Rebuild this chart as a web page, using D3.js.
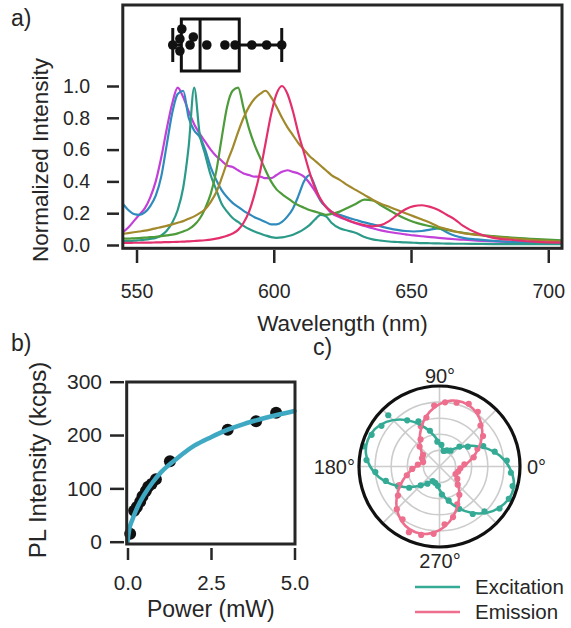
<!DOCTYPE html>
<html>
<head>
<meta charset="utf-8">
<script src="https://cdn.jsdelivr.net/npm/d3@7"></script>
<style>
  body { margin: 0; background: #fff; }
  svg { display: block; font-family: "Liberation Sans", Arial, sans-serif; }
  .axis .domain { display: none; }
  .axis line { stroke: #262626; stroke-width: 2.5; }
  .axis text { fill: #262626; }
</style>
</head>
<body>
<svg id="fig" width="571" height="628"></svg>
<script>
// ---- panel a: spectra ----
const wavelengths = [545,547,549,551,553,555,557,559,561,563,565,567,569,571,573,575,577,579,581,583,
  585,587,589,591,593,595,597,599,601,603,605,607,609,611,613,615,617,619,621,
  624,627,630,633,636,639,642,645,648,651,654,657,660,663,666,669,674,680,688,696,705];

const magenta = [0.08,0.11,0.15,0.19,0.23,0.30,0.40,0.55,0.73,0.89,0.99,0.93,0.84,0.76,0.70,0.65,0.60,0.56,0.53,0.50,
  0.49,0.47,0.45,0.44,0.43,0.43,0.42,0.42,0.44,0.46,0.47,0.46,0.45,0.43,0.39,0.34,0.28,0.24,0.20,
  0.175,0.155,0.135,0.12,0.105,0.092,0.082,0.074,0.067,0.06,0.055,0.05,0.045,0.04,0.036,0.033,0.028,0.023,0.018,0.014,0.011];
const blue = [0.26,0.22,0.195,0.19,0.205,0.245,0.31,0.43,0.63,0.83,0.95,0.97,0.80,0.72,0.68,0.60,0.49,0.41,0.345,0.30,
  0.265,0.24,0.215,0.195,0.175,0.16,0.145,0.13,0.13,0.145,0.18,0.23,0.31,0.40,0.44,0.37,0.28,0.24,0.21,
  0.19,0.172,0.157,0.142,0.13,0.117,0.105,0.095,0.088,0.085,0.088,0.097,0.105,0.08,0.058,0.045,0.035,0.026,0.018,0.013,0.01];
const teal = [0.025,0.025,0.027,0.03,0.033,0.038,0.045,0.06,0.09,0.14,0.22,0.36,0.62,0.99,0.70,0.57,0.44,0.35,0.26,0.21,
  0.17,0.145,0.12,0.10,0.085,0.072,0.06,0.05,0.045,0.048,0.055,0.065,0.08,0.10,0.125,0.16,0.19,0.18,0.14,
  0.105,0.09,0.075,0.05,0.035,0.028,0.022,0.019,0.016,0.014,0.012,0.011,0.01,0.009,0.008,0.008,0.007,0.006,0.006,0.005,0.005];
const green = [0.04,0.04,0.042,0.044,0.046,0.049,0.052,0.056,0.06,0.065,0.073,0.085,0.10,0.125,0.165,0.23,0.32,0.46,0.67,0.87,
  0.97,0.99,0.86,0.73,0.63,0.55,0.47,0.40,0.35,0.32,0.295,0.27,0.25,0.235,0.22,0.21,0.20,0.19,0.195,
  0.21,0.235,0.26,0.285,0.28,0.25,0.22,0.19,0.165,0.145,0.13,0.118,0.105,0.095,0.085,0.077,0.066,0.056,0.045,0.037,0.03];
const olive = [0.07,0.075,0.08,0.085,0.09,0.097,0.105,0.112,0.12,0.13,0.14,0.15,0.165,0.18,0.20,0.225,0.27,0.33,0.42,0.52,
  0.61,0.71,0.80,0.87,0.92,0.95,0.97,0.93,0.87,0.80,0.74,0.69,0.64,0.60,0.56,0.53,0.50,0.47,0.44,
  0.41,0.375,0.345,0.315,0.285,0.26,0.24,0.22,0.20,0.18,0.16,0.14,0.115,0.10,0.085,0.075,0.063,0.052,0.04,0.03,0.022];
const red = [0.013,0.013,0.014,0.014,0.015,0.015,0.016,0.017,0.018,0.019,0.02,0.021,0.023,0.025,0.027,0.03,0.034,0.04,0.048,0.058,
  0.072,0.095,0.14,0.21,0.32,0.46,0.64,0.82,0.95,1.0,0.95,0.84,0.70,0.58,0.46,0.36,0.29,0.24,0.21,
  0.18,0.155,0.138,0.125,0.118,0.125,0.15,0.19,0.225,0.245,0.25,0.24,0.22,0.19,0.16,0.12,0.075,0.045,0.03,0.02,0.015];

const spectra = [
  {name: "magenta", values: magenta, color: "#c23fd8"},
  {name: "blue", values: blue, color: "#2f8bbd"},
  {name: "teal", values: teal, color: "#2b9a88"},
  {name: "green", values: green, color: "#4d9b3a"},
  {name: "olive", values: olive, color: "#a1892c"},
  {name: "red", values: red, color: "#e3306c"}
];

// peak wavelengths of all emitters (box plot on top)
const peakWavelengths = [563.2,565.8,565.8,566.5,569.5,570.7,575.6,582.2,585.9,592.0,597.4,602.9];

const yTicksA = [0, 0.2, 0.4, 0.6, 0.8, 1.0];
const xTicksA = [550, 600, 650, 700];

// ---- panel b: power dependence ----
const power = [0.08,0.2,0.28,0.38,0.45,0.55,0.62,0.72,0.85,1.27,3.0,3.85,4.45];
const plIntensity = [15,58,65,75,85,95,103,108,117,151,210,226,242];
const fitPower = [0,0.05,0.15,0.3,0.5,0.75,1.0,1.5,2.0,2.5,3.0,3.5,4.0,4.5,5.0];
const fitIntensity = [0,22,42,65,88,111,130,157,180,196,210,221,230,238,245];
const xTicksB = [0, 2.5, 5.0];
const yTicksB = [0, 100, 200, 300];

// ---- panel c: polarization ----
const fitAngles = [0,10,20,30,40,50,60,70,80,90,100,110,120,130,140,150,160,170,
  180,190,200,210,220,230,240,250,260,270,280,290,300,310,320,330,340,350];
const excitationFit = [0.862,0.763,0.64,0.51,0.388,0.288,0.223,0.2,0.223,0.288,0.388,0.51,0.64,0.763,0.862,0.928,0.95,0.928,
  0.862,0.763,0.64,0.51,0.388,0.288,0.223,0.2,0.223,0.288,0.388,0.51,0.64,0.763,0.862,0.928,0.96,0.935];
const emissionFit = [0.294,0.378,0.48,0.59,0.693,0.776,0.831,0.85,0.831,0.776,0.693,0.59,0.48,0.378,0.294,0.239,0.22,0.239,
  0.294,0.378,0.48,0.59,0.70,0.79,0.85,0.87,0.85,0.79,0.70,0.59,0.48,0.378,0.294,0.239,0.22,0.239];
const dotAngles = [5,15,25,35,45,55,65,75,85,95,105,115,125,135,145,155,165,175,
  185,195,205,215,225,235,245,255,265,275,285,295,305,315,325,335,345,355];
const excitationDots = [0.84,0.71,0.60,0.43,0.35,0.24,0.22,0.20,0.27,0.31,0.46,0.62,0.70,0.90,0.88,0.93,0.97,0.91,
  0.80,0.69,0.57,0.46,0.33,0.26,0.20,0.21,0.24,0.35,0.44,0.58,0.72,0.79,0.91,0.95,0.94,0.89];
const emissionDots = [0.31,0.44,0.52,0.66,0.72,0.83,0.86,0.82,0.80,0.76,0.63,0.55,0.41,0.35,0.25,0.24,0.21,0.27,
  0.34,0.42,0.55,0.63,0.75,0.80,0.90,0.88,0.84,0.72,0.65,0.52,0.43,0.32,0.27,0.22,0.24,0.26];
const polarLabels = ["0°", "90°", "180°", "270°"];
const legendLabels = ["Excitation", "Emission"];
const polarColors = ["#35ab96", "#ee6e8d"];

const svg = d3.select("#fig");
const ink = "#262626";

// =================== panel a ===================
const fa = {left: 122.8, right: 562, top: 5, bottom: 248.3};
let xa = d3.scaleLinear().domain([545, 705]).range([fa.left, fa.right]);
let ya = d3.scaleLinear().domain([0, 1]).range([245, 86]);

svg.append("defs").append("clipPath").attr("id", "clipA")
   .append("rect")
   .attr("x", fa.left).attr("y", fa.top)
   .attr("width", fa.right - fa.left).attr("height", fa.bottom - fa.top);

let specLine = d3.line()
                 .x((d, i) => xa(wavelengths[i]))
                 .y(d => ya(d))
                 .curve(d3.curveMonotoneX);

svg.append("g").attr("clip-path", "url(#clipA)")
   .selectAll("path")
   .data(spectra)
   .enter().append("path")
   .attr("d", d => specLine(d.values))
   .attr("fill", "none")
   .attr("stroke", d => d.color)
   .attr("stroke-width", 2.2)
   .attr("stroke-linejoin", "round");

// box plot of peak positions
const boxY = 45;
const sorted = peakWavelengths.slice().sort(d3.ascending);
const q1 = d3.quantile(sorted, 0.25),
      med = d3.quantile(sorted, 0.5),
      q3 = d3.quantile(sorted, 0.75);
const iqr = q3 - q1;
const wLo = d3.min(sorted.filter(v => v >= q1 - 1.5 * iqr)),
      wHi = d3.max(sorted.filter(v => v <= q3 + 1.5 * iqr));

let box = svg.append("g").attr("stroke", "#111").attr("stroke-width", 3).attr("fill", "none");
box.append("rect")
   .attr("x", xa(q1)).attr("y", boxY - 26)
   .attr("width", xa(q3) - xa(q1)).attr("height", 52);
box.append("line").attr("x1", xa(med)).attr("x2", xa(med)).attr("y1", boxY - 26).attr("y2", boxY + 26);
box.append("line").attr("x1", xa(wLo)).attr("x2", xa(q1)).attr("y1", boxY).attr("y2", boxY);
box.append("line").attr("x1", xa(q3)).attr("x2", xa(wHi)).attr("y1", boxY).attr("y2", boxY);
[wLo, wHi].forEach(w => {
  box.append("line").attr("x1", xa(w)).attr("x2", xa(w)).attr("y1", boxY - 17).attr("y2", boxY + 17);
});

// simple swarm so overlapping dots spread vertically
const dotR = 4.8;
const placed = [];
sorted.forEach(v => {
  const px = xa(v);
  let k = 0, off = 0;
  const free = o => placed.every(p => Math.hypot(p.x - px, p.y - o) >= dotR * 2 - 1);
  while (!free(off)) { k++; off = (k % 2 ? -1 : 1) * Math.ceil(k / 2) * 2; }
  placed.push({x: px, y: off});
});
svg.append("g").selectAll("circle")
   .data(placed)
   .enter().append("circle")
   .attr("cx", d => d.x)
   .attr("cy", d => boxY + d.y)
   .attr("r", dotR)
   .attr("fill", "#111");

// frame
svg.append("rect")
   .attr("x", fa.left).attr("y", fa.top)
   .attr("width", fa.right - fa.left).attr("height", fa.bottom - fa.top)
   .attr("fill", "none").attr("stroke", ink).attr("stroke-width", 3);

// axes
svg.append("g")
   .attr("class", "axis")
   .attr("transform", "translate(119,0)")
   .call(d3.axisLeft(ya).tickValues(yTicksA).tickSize(12).tickPadding(17).tickFormat(d3.format(".1f")))
   .selectAll("text").style("font-size", "19.5px");

svg.append("g")
   .attr("class", "axis")
   .attr("transform", "translate(0,250)")
   .call(d3.axisBottom(xa).tickValues(xTicksA).tickSize(13).tickPadding(21).tickFormat(d3.format("d")))
   .selectAll("text").style("font-size", "19.5px");

svg.append("text")
   .attr("transform", "translate(48,160) rotate(-90)")
   .attr("text-anchor", "middle")
   .attr("fill", ink)
   .style("font-size", "22.5px")
   .text("Normalized Intensity");

svg.append("text")
   .attr("x", (fa.left + fa.right) / 2).attr("y", 331)
   .attr("text-anchor", "middle")
   .attr("fill", ink)
   .style("font-size", "22.5px")
   .text("Wavelength (nm)");

svg.append("text").attr("x", 11).attr("y", 26).attr("fill", ink)
   .style("font-size", "23px").text("a)");

// =================== panel b ===================
const fb = {left: 126.7, right: 295, top: 382, bottom: 544};
let xb = d3.scaleLinear().domain([0, 5]).range([127.5, 294.5]);
let yb = d3.scaleLinear().domain([0, 300]).range([541.7, 381.7]);

let fitLine = d3.line()
                .x((d, i) => xb(fitPower[i]))
                .y(d => yb(d))
                .curve(d3.curveMonotoneX);

svg.append("g").selectAll("circle")
   .data(plIntensity)
   .enter().append("circle")
   .attr("cx", (d, i) => xb(power[i]))
   .attr("cy", d => yb(d))
   .attr("r", 6)
   .attr("fill", "#111");

svg.append("path")
   .attr("d", fitLine(fitIntensity))
   .attr("fill", "none")
   .attr("stroke", "#3fa9c4")
   .attr("stroke-width", 4.5)
   .attr("stroke-linecap", "round");

svg.append("rect")
   .attr("x", fb.left).attr("y", fb.top)
   .attr("width", fb.right - fb.left).attr("height", fb.bottom - fb.top)
   .attr("fill", "none").attr("stroke", ink).attr("stroke-width", 3);

svg.append("g")
   .attr("class", "axis")
   .attr("transform", "translate(124,0)")
   .call(d3.axisLeft(yb).tickValues(yTicksB).tickSize(14).tickPadding(8).tickFormat(d3.format("d")))
   .selectAll("text").style("font-size", "21px");

svg.append("g")
   .attr("class", "axis")
   .attr("transform", "translate(0,548)")
   .call(d3.axisBottom(xb).tickValues(xTicksB).tickSize(12).tickPadding(15).tickFormat(d3.format(".1f")))
   .selectAll("text").style("font-size", "20.5px");

svg.append("text")
   .attr("transform", "translate(46,460) rotate(-90)")
   .attr("text-anchor", "middle")
   .attr("fill", ink)
   .style("font-size", "24px")
   .text("PL Intensity (kcps)");

svg.append("text")
   .attr("x", (fb.left + fb.right) / 2).attr("y", 617)
   .attr("text-anchor", "middle")
   .attr("fill", ink)
   .style("font-size", "23px")
   .text("Power (mW)");

svg.append("text").attr("x", 11).attr("y", 351).attr("fill", ink)
   .style("font-size", "23px").text("b)");

// =================== panel c ===================
const cx = 439.5, cy = 466.5, R = 80.5;
let rc = d3.scaleLinear().domain([0, 1]).range([0, R]);
const toRad = a => a * Math.PI / 180;

let polar = svg.append("g").attr("transform", "translate(" + cx + "," + cy + ")");

// grid
polar.selectAll(".ring")
     .data([0.2, 0.4, 0.6, 0.8])
     .enter().append("circle")
     .attr("class", "ring")
     .attr("r", d => rc(d))
     .attr("fill", "none")
     .attr("stroke", "#cccccc")
     .attr("stroke-width", 1.6);
polar.selectAll(".spoke")
     .data(d3.range(0, 360, 45))
     .enter().append("line")
     .attr("class", "spoke")
     .attr("x1", 0).attr("y1", 0)
     .attr("x2", d => R * Math.cos(toRad(d)))
     .attr("y2", d => -R * Math.sin(toRad(d)))
     .attr("stroke", "#cccccc")
     .attr("stroke-width", 1.6);

let radial = d3.lineRadial()
               .angle((d, i) => toRad(90 - fitAngles[i]))
               .radius(d => rc(d))
               .curve(d3.curveCardinalClosed);

[excitationDots, emissionDots].forEach((dots, k) => {
  polar.append("g").selectAll("circle")
       .data(dots)
       .enter().append("circle")
       .attr("cx", (d, i) => rc(d) * Math.cos(toRad(dotAngles[i])))
       .attr("cy", (d, i) => -rc(d) * Math.sin(toRad(dotAngles[i])))
       .attr("r", 3.1)
       .attr("fill", polarColors[k]);
});
[excitationFit, emissionFit].forEach((fit, k) => {
  polar.append("path")
       .attr("d", radial(fit))
       .attr("fill", "none")
       .attr("stroke", polarColors[k])
       .attr("stroke-width", 2.6);
});

polar.append("circle")
     .attr("r", R)
     .attr("fill", "none")
     .attr("stroke", "#111")
     .attr("stroke-width", 3.2);

const labelFont = "20px";
svg.append("text").attr("x", 527).attr("y", 474).attr("fill", ink)
   .style("font-size", labelFont).text(polarLabels[0]);
svg.append("text").attr("x", 440).attr("y", 383).attr("text-anchor", "middle").attr("fill", ink)
   .style("font-size", labelFont).text(polarLabels[1]);
svg.append("text").attr("x", 355).attr("y", 474).attr("text-anchor", "end").attr("fill", ink)
   .style("font-size", labelFont).text(polarLabels[2]);
svg.append("text").attr("x", 440).attr("y", 568).attr("text-anchor", "middle").attr("fill", ink)
   .style("font-size", labelFont).text(polarLabels[3]);

// legend
let legend = svg.append("g").attr("transform", "translate(415,587)");
legendLabels.forEach((lab, k) => {
  legend.append("line")
        .attr("x1", 0).attr("x2", 45)
        .attr("y1", k * 25).attr("y2", k * 25)
        .attr("stroke", polarColors[k])
        .attr("stroke-width", 2.6);
  legend.append("text")
        .attr("x", 60).attr("y", k * 25)
        .attr("dy", "0.35em")
        .attr("fill", ink)
        .style("font-size", "20.5px")
        .text(lab);
});

svg.append("text").attr("x", 313).attr("y", 355).attr("fill", ink)
   .style("font-size", "23px").text("c)");
</script>
</body>
</html>
